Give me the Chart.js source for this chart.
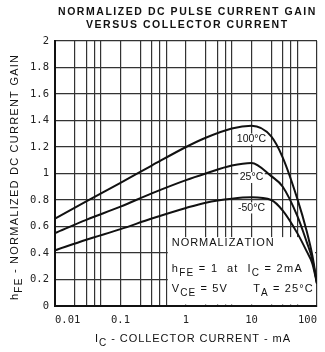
<!DOCTYPE html>
<html lang="en">
<head>
    <meta charset="UTF-8">
    <title>Normalized DC Pulse Current Gain</title>
    <style>
        body { margin: 0; background: #fff; }
        #chart { display: block; }
    </style>
</head>
<body>
    <canvas id="chart" width="325" height="352"></canvas>

    <script src="https://cdn.jsdelivr.net/npm/chart.js"></script>
    <script>
        // collector current (mA) and normalized hFE
        const currents = [0.01, 0.03, 0.1, 0.3, 1, 2, 5, 10, 20, 30, 50, 70, 85, 100];
        const gain100C = [0.66, 0.79, 0.93, 1.06, 1.20, 1.27, 1.34, 1.36, 1.28, 1.12, 0.81, 0.56, 0.38, 0.17];
        const gain25C = [0.55, 0.65, 0.75, 0.85, 0.95, 1.00, 1.06, 1.08, 0.98, 0.90, 0.68, 0.48, 0.35, 0.17];
        const gainMinus50C = [0.42, 0.50, 0.58, 0.66, 0.74, 0.78, 0.81, 0.82, 0.80, 0.72, 0.55, 0.41, 0.32, 0.17];
        const seriesNames = ['100°C', '25°C', '-50°C'];

        // axis ticks / grid
        const xGridValues = [0.01, 0.02, 0.03, 0.04, 0.05, 0.1, 0.2, 0.3, 0.4, 0.5,
                             1, 2, 3, 4, 5, 10, 20, 30, 40, 50, 100];
        const xTickValues = [0.01, 0.1, 1, 10, 100];
        const xTickLabels = ['0.01', '0.1', '1', '10', '100'];
        const yTickValues = [0, 0.2, 0.4, 0.6, 0.8, 1, 1.2, 1.4, 1.6, 1.8, 2];
        const yTickLabels = ['0', '0.2', '0.4', '0.6', '0.8', '1', '1.2', '1.4', '1.6', '1.8', '2'];

        const SANS = '"Liberation Sans", Arial, sans-serif';
        const MONO = '"DejaVu Sans Mono", monospace';

        function toPoints(values) {
            return currents.map((c, i) => ({ x: c, y: values[i] }));
        }

        // draws text char by char so spacing can be stretched; segs = [[text, isSub], ...]
        function richWidth(ctx, segs, size, subSize) {
            let w = 0, n = 0;
            segs.forEach(([t, sub]) => {
                ctx.font = (sub ? subSize : size) + 'px ' + SANS;
                for (const ch of t) { w += ctx.measureText(ch).width; n++; }
            });
            return { w, n };
        }
        function drawRich(ctx, segs, x, y, opts) {
            const size = opts.size, subSize = opts.subSize || size - 2;
            const weight = opts.bold ? 'bold ' : '';
            const m = richWidth(ctx, segs, size, subSize);
            const gap = opts.width ? (opts.width - m.w) / Math.max(m.n - 1, 1) : 0;
            let cx = x;
            ctx.textBaseline = 'middle';
            ctx.textAlign = 'left';
            segs.forEach(([t, sub]) => {
                ctx.font = weight + (sub ? subSize : size) + 'px ' + SANS;
                for (const ch of t) {
                    ctx.fillText(ch, cx, y + (sub ? opts.subDy || 4 : 0));
                    cx += ctx.measureText(ch).width + gap;
                }
            });
        }

        const decorations = {
            id: 'decorations',
            beforeDatasetsDraw(chart) {
                const ctx = chart.ctx, area = chart.chartArea;
                const xs = chart.scales.x, ys = chart.scales.y;
                ctx.save();
                // normalization note box
                const bx = xs.getPixelForValue(0.5) + 1.5;
                const by = ys.getPixelForValue(0.52);
                ctx.fillStyle = '#fff';
                ctx.fillRect(bx, by, area.right - 2 - bx, area.bottom - 1.5 - by);
                ctx.fillStyle = '#111';
                drawRich(ctx, [['NORMALIZATION', false]], bx + 4, by + 6, { size: 11, width: 102 });
                drawRich(ctx, [['h', false], ['FE', true], [' = 1  at  I', false], ['C', true], [' = 2mA', false]],
                    bx + 4, by + 32, { size: 11, subSize: 10, width: 130 });
                drawRich(ctx, [['V', false], ['CE', true], [' = 5V      T', false], ['A', true], [' = 25°C', false]],
                    bx + 4, by + 52, { size: 11, subSize: 10, width: 141 });

                // curve labels
                const labelAt = [1.26, 0.97, 0.74];
                ctx.font = '10.5px ' + SANS;
                ctx.textAlign = 'center';
                ctx.textBaseline = 'middle';
                seriesNames.forEach((name, i) => {
                    const px = xs.getPixelForValue(10), py = ys.getPixelForValue(labelAt[i]);
                    const w = ctx.measureText(name).width + 3;
                    ctx.fillStyle = '#fff';
                    ctx.fillRect(px - w / 2, py - 5.5, w, 11);
                    ctx.fillStyle = '#111';
                    ctx.fillText(name, px, py);
                });
                ctx.restore();
            },
            afterDraw(chart) {
                const ctx = chart.ctx, area = chart.chartArea;
                ctx.save();
                ctx.fillStyle = '#111';
                // main title
                const cx = (area.left + area.right) / 2;
                drawRich(ctx, [['NORMALIZED DC PULSE CURRENT GAIN', false]], cx - 128, 12, { size: 10.5, bold: true, width: 255 });
                drawRich(ctx, [['VERSUS COLLECTOR CURRENT', false]], cx - 100, 25, { size: 10.5, bold: true, width: 200 });
                // x axis title
                drawRich(ctx, [['I', false], ['C', true], [' - COLLECTOR CURRENT - mA', false]], 95, 339,
                    { size: 11, subSize: 10, width: 195 });
                // y axis title, rotated
                ctx.translate(15, 300);
                ctx.rotate(-Math.PI / 2);
                drawRich(ctx, [['h', false], ['FE', true], [' - NORMALIZED DC CURRENT GAIN', false]], 0, 0,
                    { size: 11, subSize: 10, width: 245 });
                ctx.restore();
            }
        };

        const lineStyle = {
            borderColor: '#111',
            borderWidth: 2,
            pointRadius: 0,
            fill: false,
            cubicInterpolationMode: 'monotone'
        };

        new Chart(document.getElementById('chart').getContext('2d'), {
            type: 'line',
            data: {
                datasets: [
                    { label: seriesNames[0], data: toPoints(gain100C), ...lineStyle },
                    { label: seriesNames[1], data: toPoints(gain25C), ...lineStyle },
                    { label: seriesNames[2], data: toPoints(gainMinus50C), ...lineStyle }
                ]
            },
            options: {
                responsive: false,
                animation: false,
                devicePixelRatio: 1,
                layout: { padding: { top: 41, right: 3, left: 0, bottom: 0 } },
                plugins: {
                    legend: { display: false },
                    title: { display: false },
                    tooltip: { enabled: false }
                },
                scales: {
                    x: {
                        type: 'logarithmic',
                        min: 0.01,
                        max: 100,
                        afterBuildTicks: scale => { scale.ticks = xGridValues.map(v => ({ value: v })); },
                        afterFit: scale => { scale.height = 46; },
                        grid: { color: '#333', lineWidth: 1.2, drawTicks: false },
                        border: { color: '#111', width: 2 },
                        ticks: {
                            autoSkip: false,
                            maxRotation: 0,
                            align: 'inner',
                            padding: 8,
                            color: '#222',
                            font: { family: MONO, size: 10.5 },
                            callback: value => {
                                const k = xTickValues.findIndex(t => Math.abs(t - value) < t * 1e-6);
                                return k >= 0 ? xTickLabels[k] : '';
                            }
                        }
                    },
                    y: {
                        min: 0,
                        max: 2,
                        afterBuildTicks: scale => { scale.ticks = yTickValues.map(v => ({ value: v })); },
                        afterFit: scale => { scale.width = 55; },
                        grid: { color: '#333', lineWidth: 1.2, drawTicks: false },
                        border: { color: '#111', width: 2 },
                        ticks: {
                            padding: 6,
                            color: '#222',
                            font: { family: MONO, size: 10.5 },
                            callback: (value, i) => yTickLabels[i]
                        }
                    }
                }
            },
            plugins: [decorations]
        });
    </script>
</body>
</html>
